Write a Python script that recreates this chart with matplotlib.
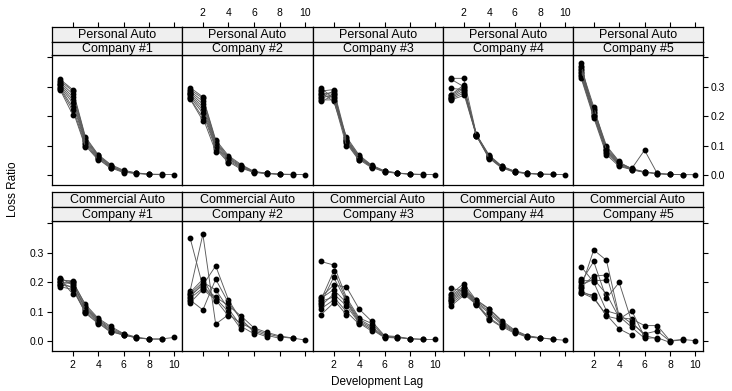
import matplotlib
matplotlib.use('Agg')
import matplotlib.pyplot as plt

plt.rcParams['font.family'] = ['Liberation Sans', 'DejaVu Sans']

W, H = 732, 391

# ---------------- data (loss ratio by accident year, development lags 1..n) -------------
lags = [1, 2, 3, 4, 5, 6, 7, 8, 9, 10]
lines_of_business = ["Personal Auto", "Commercial Auto"]
companies = ["Company #1", "Company #2", "Company #3", "Company #4", "Company #5"]

pa_company1 = [
    [0.325, 0.29, 0.13, 0.07, 0.036, 0.017, 0.008, 0.004, 0.003, 0.002],
    [0.32, 0.285, 0.125, 0.068, 0.033, 0.015, 0.007, 0.003, 0.002],
    [0.315, 0.275, 0.12, 0.065, 0.030, 0.013, 0.006, 0.003],
    [0.31, 0.265, 0.115, 0.062, 0.028, 0.011, 0.005],
    [0.305, 0.255, 0.11, 0.058, 0.025, 0.009],
    [0.30, 0.245, 0.105, 0.055, 0.023],
    [0.297, 0.23, 0.10, 0.052],
    [0.293, 0.22, 0.095],
    [0.29, 0.205],
    [0.31],
]
pa_company2 = [
    [0.297, 0.265, 0.12, 0.066, 0.036, 0.013, 0.007, 0.004, 0.003, 0.002],
    [0.29, 0.26, 0.115, 0.062, 0.033, 0.012, 0.006, 0.003, 0.002],
    [0.285, 0.25, 0.11, 0.058, 0.03, 0.011, 0.006, 0.003],
    [0.28, 0.24, 0.105, 0.055, 0.027, 0.010, 0.005],
    [0.275, 0.23, 0.10, 0.05, 0.024, 0.009],
    [0.27, 0.22, 0.095, 0.046, 0.02],
    [0.265, 0.21, 0.09, 0.042],
    [0.26, 0.195, 0.08],
    [0.258, 0.185],
    [0.28],
]
pa_company3 = [
    [0.295, 0.26, 0.13, 0.068, 0.034, 0.015, 0.008, 0.004, 0.003, 0.002],
    [0.285, 0.29, 0.125, 0.065, 0.032, 0.014, 0.007, 0.004, 0.002],
    [0.28, 0.25, 0.12, 0.062, 0.030, 0.013, 0.007, 0.003],
    [0.275, 0.28, 0.118, 0.06, 0.028, 0.012, 0.006],
    [0.27, 0.265, 0.115, 0.057, 0.027, 0.011],
    [0.265, 0.285, 0.112, 0.053, 0.025],
    [0.26, 0.275, 0.108, 0.05],
    [0.255, 0.255, 0.10],
    [0.25, 0.27],
    [0.29],
]
pa_company4 = [
    [0.328, 0.328, 0.138, 0.068, 0.031, 0.014, 0.007, 0.004, 0.003, 0.002],
    [0.325, 0.30, 0.137, 0.066, 0.03, 0.013, 0.006, 0.004, 0.003],
    [0.294, 0.29, 0.136, 0.064, 0.029, 0.012, 0.006, 0.003],
    [0.273, 0.305, 0.135, 0.062, 0.027, 0.011, 0.005],
    [0.27, 0.298, 0.135, 0.06, 0.025, 0.01],
    [0.265, 0.293, 0.134, 0.058, 0.024],
    [0.262, 0.285, 0.133, 0.056],
    [0.258, 0.278, 0.132],
    [0.255, 0.27],
    [0.26],
]
pa_company5 = [
    [0.345, 0.21, 0.085, 0.04, 0.022, 0.012, 0.006, 0.003, 0.002, 0.002],
    [0.34, 0.20, 0.08, 0.038, 0.02, 0.011, 0.005, 0.003, 0.002],
    [0.35, 0.215, 0.09, 0.042, 0.023, 0.085, 0.006, 0.003],
    [0.335, 0.205, 0.075, 0.035, 0.018, 0.01, 0.005],
    [0.355, 0.22, 0.095, 0.045, 0.021, 0.009],
    [0.33, 0.195, 0.07, 0.03, 0.019],
    [0.36, 0.225, 0.1, 0.047],
    [0.365, 0.232, 0.085],
    [0.38, 0.20],
    [0.37],
]
ca_company1 = [
    [0.21, 0.2, 0.125, 0.078, 0.05, 0.026, 0.014, 0.008, 0.008, 0.013],
    [0.205, 0.205, 0.12, 0.075, 0.045, 0.024, 0.012, 0.007, 0.007],
    [0.2, 0.195, 0.115, 0.072, 0.04, 0.022, 0.011, 0.008],
    [0.215, 0.19, 0.11, 0.07, 0.036, 0.02, 0.013],
    [0.195, 0.2, 0.105, 0.066, 0.032, 0.021],
    [0.19, 0.185, 0.1, 0.062, 0.03],
    [0.2, 0.18, 0.095, 0.06],
    [0.185, 0.175, 0.098],
    [0.21, 0.16],
    [0.19],
]
ca_company2 = [
    [0.35, 0.185, 0.15, 0.12, 0.085, 0.045, 0.03, 0.018, 0.011, 0.004],
    [0.17, 0.362, 0.058, 0.09, 0.06, 0.04, 0.025, 0.015, 0.01],
    [0.155, 0.19, 0.255, 0.14, 0.07, 0.035, 0.02, 0.01],
    [0.14, 0.106, 0.21, 0.13, 0.075, 0.03, 0.015],
    [0.16, 0.2, 0.174, 0.11, 0.05, 0.025],
    [0.145, 0.18, 0.145, 0.1, 0.04],
    [0.13, 0.175, 0.14, 0.085],
    [0.165, 0.21, 0.137],
    [0.15, 0.195],
    [0.135],
]
ca_company3 = [
    [0.15, 0.19, 0.184, 0.109, 0.067, 0.019, 0.016, 0.008, 0.006, 0.006],
    [0.27, 0.258, 0.148, 0.079, 0.06, 0.017, 0.014, 0.009, 0.007],
    [0.14, 0.238, 0.14, 0.075, 0.05, 0.015, 0.012, 0.008],
    [0.13, 0.216, 0.135, 0.07, 0.045, 0.013, 0.011],
    [0.145, 0.175, 0.13, 0.065, 0.04, 0.012],
    [0.12, 0.16, 0.12, 0.062, 0.034],
    [0.135, 0.15, 0.1, 0.058],
    [0.11, 0.14, 0.09],
    [0.09, 0.13],
    [0.125],
]
ca_company4 = [
    [0.179, 0.17, 0.14, 0.11, 0.07, 0.038, 0.019, 0.012, 0.007, 0.003],
    [0.16, 0.195, 0.138, 0.108, 0.065, 0.035, 0.017, 0.011, 0.007],
    [0.155, 0.185, 0.135, 0.1, 0.06, 0.032, 0.015, 0.01],
    [0.15, 0.18, 0.13, 0.095, 0.055, 0.03, 0.013],
    [0.145, 0.175, 0.128, 0.08, 0.05, 0.027],
    [0.14, 0.17, 0.126, 0.075, 0.048],
    [0.135, 0.165, 0.125, 0.073],
    [0.128, 0.16, 0.124],
    [0.12, 0.155],
    [0.14],
]
ca_company5 = [
    [0.19, 0.21, 0.16, 0.08, 0.075, 0.053, 0.053, 0.002, 0.006, 0.002],
    [0.253, 0.2, 0.103, 0.09, 0.06, 0.025, 0.035, 0.0, 0.005],
    [0.18, 0.309, 0.274, 0.085, 0.047, 0.01, 0.012, -0.004],
    [0.2, 0.27, 0.145, 0.199, 0.065, 0.02, 0.008],
    [0.17, 0.15, 0.085, 0.075, 0.103, 0.015],
    [0.165, 0.145, 0.09, 0.042, 0.02],
    [0.185, 0.221, 0.224, 0.08],
    [0.205, 0.205, 0.207],
    [0.162, 0.157],
    [0.21],
]

panel_data = [
    [pa_company1, pa_company2, pa_company3, pa_company4, pa_company5],
    [ca_company1, ca_company2, ca_company3, ca_company4, ca_company5],
]

x_ticks = [2, 4, 6, 8, 10]
y_ticks = [0.0, 0.1, 0.2, 0.3, 0.4]
y_ticklabels = ["0.0", "0.1", "0.2", "0.3", ""]

# ---------------- layout (pixels) ----------------
col_edges = [52, 182, 313, 443, 573, 703]
row_geom = [  # strip top, strip mid, panel top, panel bottom
    (27, 42, 55, 185),
    (192, 207, 221, 351),
]
XLIM = (0.37, 10.6)
YLIM = (-0.033, 0.407)
FS_TICK = 7.5
FS_STRIP = 9
TICK_LEN = 3.8
STRIP_BG = '#efefef'


def rect(x0, y0, x1, y1):
    return [x0 / W, 1 - y1 / H, (x1 - x0) / W, (y1 - y0) / H]


fig = plt.figure(figsize=(W / 100, H / 100), dpi=100)

for r in range(2):
    st, sm, pt, pb = row_geom[r]
    for c in range(5):
        x0, x1 = col_edges[c], col_edges[c + 1]
        ax = fig.add_axes(rect(x0, pt, x1, pb))
        for yr in panel_data[r][c]:
            ax.plot(lags[:len(yr)], yr, color='#5a5a5a', lw=0.65,
                    marker='o', ms=3.2, mfc='black', mec='black', zorder=2)
        ax.set_xlim(*XLIM)
        ax.set_ylim(*YLIM)
        for s in ax.spines.values():
            s.set_linewidth(0.9)
        ax.tick_params(direction='out', length=TICK_LEN, width=0.8,
                       labelsize=FS_TICK, pad=2)
        # x ticks
        if r == 1:
            ax.set_xticks(x_ticks)
            ax.tick_params(axis='x', bottom=True, labelbottom=(c % 2 == 0), pad=3)
        else:
            ax.set_xticks([])
        # y ticks
        ax.set_yticks(y_ticks)
        ax.set_yticklabels(y_ticklabels)
        left = (c == 0)
        right = (c == 4)
        ax.tick_params(axis='y', left=left, right=right,
                       labelleft=(left and r == 1), labelright=(right and r == 0))

        # strips
        s1 = fig.add_axes(rect(x0, st, x1, sm))
        s2 = fig.add_axes(rect(x0, sm, x1, pt))
        for sax, txt in ((s1, lines_of_business[r]), (s2, companies[c])):
            sax.set_facecolor(STRIP_BG)
            sax.set_xlim(*XLIM)
            sax.set_ylim(0, 1)
            sax.set_yticks([])
            sax.set_xticks([])
            for s in sax.spines.values():
                s.set_linewidth(0.9)
            sax.text(0.5, 0.45, txt, transform=sax.transAxes, ha='center',
                     va='center', fontsize=FS_STRIP)
        if r == 0:
            s1.set_xticks(x_ticks)
            s1.tick_params(axis='x', top=True, bottom=False, labelbottom=False,
                           labeltop=(c % 2 == 1), direction='out',
                           length=TICK_LEN, width=0.8, labelsize=FS_TICK, pad=3)

fig.text(377.5 / W, 1 - 382 / H, "Development Lag", ha='center', va='center',
         fontsize=8.5)
fig.text(13 / W, 1 - 189 / H, "Loss Ratio", ha='center', va='center',
         rotation=90, fontsize=8.5)

fig.savefig('out.png', dpi=100)
